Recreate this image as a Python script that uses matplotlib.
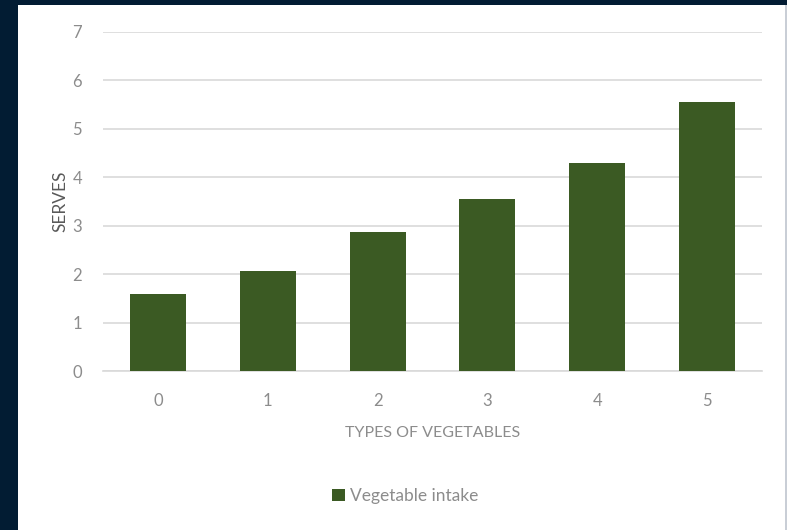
import matplotlib.pyplot as plt
from matplotlib.patches import Rectangle

# vegetable serves by number of vegetable types
types = [0, 1, 2, 3, 4, 5]
serves = [1.6, 2.07, 2.87, 3.55, 4.29, 5.56]
y_ticks = [0, 1, 2, 3, 4, 5, 6, 7]

bar_color = "#3b5a23"
grid_color = "#d9d9d9"
text_color = "#8c8c8c"

plt.rcParams['font.family'] = ['Lato', 'DejaVu Sans']

fig = plt.figure(figsize=(7.87, 5.30), dpi=100)
fig.patch.set_facecolor("#021c33")

# white panel inside the dark frame
panel = Rectangle((18 / 787, 0), (785 - 18) / 787, (530 - 5) / 530,
                  transform=fig.transFigure, facecolor="white",
                  edgecolor="none", zorder=-10)
fig.patches.append(panel)
edge = Rectangle((785 / 787, 0), 2 / 787, (530 - 5) / 530,
                 transform=fig.transFigure, facecolor="#c9ced6",
                 edgecolor="none", zorder=-10)
fig.patches.append(edge)

ax = fig.add_axes([103 / 787, 1 - 371 / 530, (762 - 103) / 787, (371 - 32) / 530])
ax.set_zorder(5)
ax.set_facecolor("white")

ax.bar(types, serves, width=0.51, color=bar_color, zorder=3, label="Vegetable intake")

ax.set_xlim(-0.5, 5.5)
ax.set_ylim(0, 7)
ax.set_yticks(y_ticks)
ax.set_xticks(types)
ax.yaxis.grid(True, color=grid_color, linewidth=1.2, zorder=0)
ax.set_axisbelow(True)

for side in ["top", "right", "left"]:
    ax.spines[side].set_visible(False)
ax.spines["bottom"].set_color(grid_color)
ax.spines["bottom"].set_linewidth(1.2)

ax.tick_params(axis="both", length=0, colors=text_color, labelsize=12)
ax.tick_params(axis="x", pad=16)
ax.tick_params(axis="y", pad=15)

ax.set_xlabel("TYPES OF VEGETABLES", color=text_color, fontsize=11.5, labelpad=12)
ax.set_ylabel("SERVES", color="#595959", fontsize=12.5, labelpad=3)

leg = fig.legend(loc="center", bbox_to_anchor=(405 / 787, 1 - 496 / 530),
                 frameon=False, fontsize=12.5, handlelength=0.75, handleheight=0.75,
                 handletextpad=0.3)
for t in leg.get_texts():
    t.set_color(text_color)

fig.savefig("out.png", dpi=100, facecolor=fig.get_facecolor())
